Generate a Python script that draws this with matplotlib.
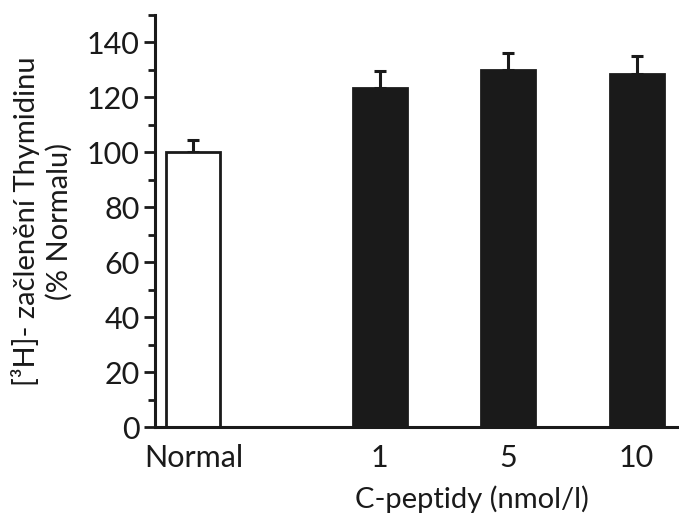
import matplotlib
matplotlib.use("Agg")
import matplotlib.pyplot as plt
from matplotlib.ticker import MultipleLocator

plt.rcParams["font.family"] = ["Lato", "DejaVu Sans"]

categories = ["Normal", "1", "5", "10"]
positions = [0.0, 1.45, 2.45, 3.45]
values = [100.0, 123.5, 130.0, 128.5]
errors = [4.5, 6.0, 6.0, 6.5]
face_colors = ["white", "#1a1a1a", "#1a1a1a", "#1a1a1a"]

fig = plt.figure(figsize=(6.79, 5.14), dpi=100)
ax = fig.add_axes([0.228, 0.169, 0.772, 0.802])

ax.bar(positions, values, width=0.42, color=face_colors, edgecolor="#1a1a1a",
       linewidth=2.0, zorder=2)
ax.errorbar(positions, values, yerr=[[0] * len(errors), errors], fmt="none",
            ecolor="#1a1a1a", elinewidth=2.2, capsize=4.5, capthick=2.2, zorder=1)

ax.set_xlim(-0.30, 3.78)
ax.set_ylim(0, 150)
ax.set_xticks(positions)
ax.set_xticklabels(categories)
ax.yaxis.set_minor_locator(MultipleLocator(10))
ax.set_yticks([0, 20, 40, 60, 80, 100, 120, 140])

for side in ("top", "right"):
    ax.spines[side].set_visible(False)
for side in ("left", "bottom"):
    ax.spines[side].set_linewidth(2.2)
    ax.spines[side].set_color("#1a1a1a")

ax.tick_params(axis="y", which="major", length=8, width=2.0, labelsize=22,
               colors="#1a1a1a", pad=3)
ax.tick_params(axis="y", which="minor", length=5, width=2.0, colors="#1a1a1a")
ax.tick_params(axis="x", length=0, labelsize=22, colors="#1a1a1a", pad=12)

ax.set_ylabel("[\u00b3H]- za\u010dlen\u011bn\u00ed Thymidinu\n(% Normalu)",
              fontsize=21, color="#1a1a1a", linespacing=1.25, labelpad=10)
ax.text(2.17, -0.197, "C-peptidy (nmol/l)", transform=ax.get_xaxis_transform(),
        ha="center", va="baseline", fontsize=21, color="#1a1a1a")

fig.savefig("out.png", dpi=100, facecolor="white")
